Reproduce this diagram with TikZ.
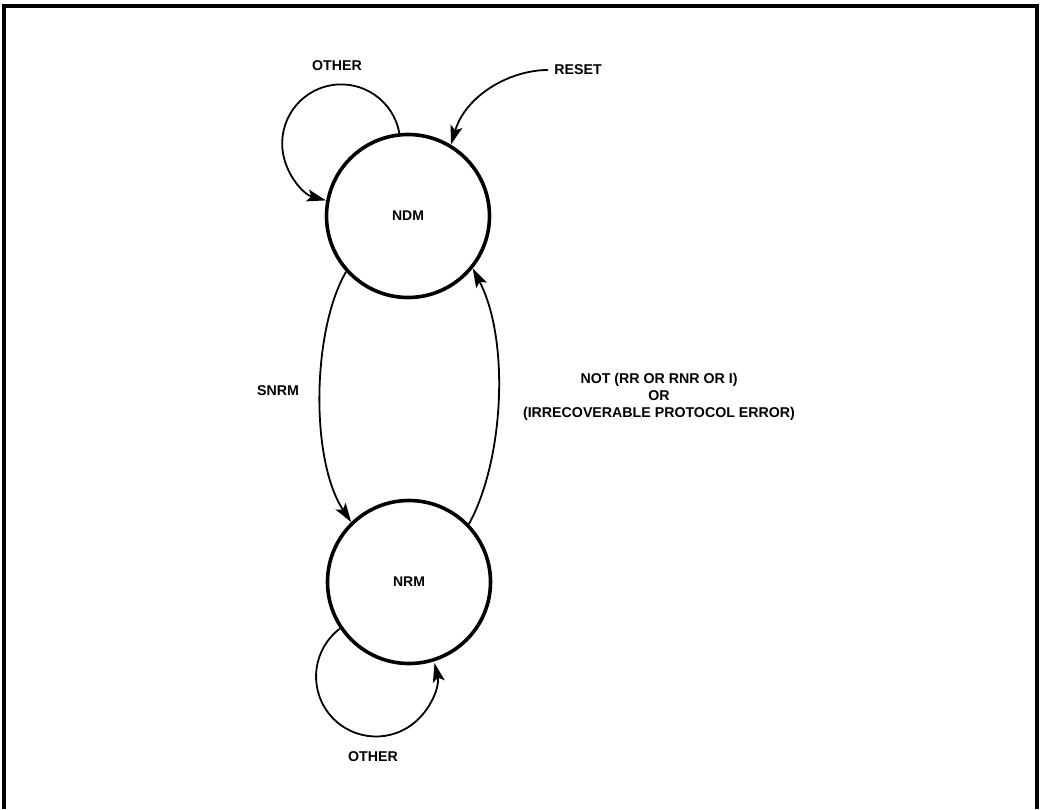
\documentclass[tikz,border=0pt]{standalone}
\usepackage{fontspec}
\setmainfont{Liberation Sans}
\usetikzlibrary{arrows.meta}
\begin{document}
\begin{tikzpicture}[x=1pt,y=-1pt,
  state/.style={circle,draw,line width=3.6pt,inner sep=0pt,minimum size=163pt,font=\fontsize{14}{16}\selectfont\bfseries},
  lbl/.style={inner sep=0pt,font=\fontsize{14.2}{17}\selectfont\bfseries,align=center},
  conn/.style={line width=1.8pt,-{Stealth[length=19pt,width=12pt,inset=4pt]}},
  frame/.style={line width=4pt}]
\useasboundingbox (0,0) rectangle (1044,809);
\draw[frame] (4,809) -- (4,6) -- (1037,6) -- (1037,809);
\node[state] (ndm) at (408,216) {NDM};
\node[state] (nrm) at (409,582) {NRM};
\coordinate (rs) at (548,70);
\node[lbl] (reset) at (578,70) {RESET};
\node[lbl] (othertop) at (337,66) {OTHER};
\node[lbl] (otherbot) at (373,757) {OTHER};
\node[lbl] (snrm) at (278,391) {SNRM};
\node[lbl] (notl) at (659,397) {NOT (RR OR RNR OR I)\\OR\\(IRRECOVERABLE PROTOCOL ERROR)};
% self loop NDM
\draw[conn] (ndm.96) arc[start angle=-10, end angle=-255, radius=59];
% reset
\draw[conn] (rs) .. controls (510,70) and (466,95) .. (ndm.59);
% SNRM
\draw[conn] (ndm.222) .. controls (312,330) and (310,460) .. (nrm.134);
% return
\draw[conn] (nrm.44) .. controls (504,460) and (510,340) .. (ndm.321);
% self loop NRM
\draw[conn] (nrm.214) arc[start angle=233, end angle=-13, radius=60];
\end{tikzpicture}
\end{document}
